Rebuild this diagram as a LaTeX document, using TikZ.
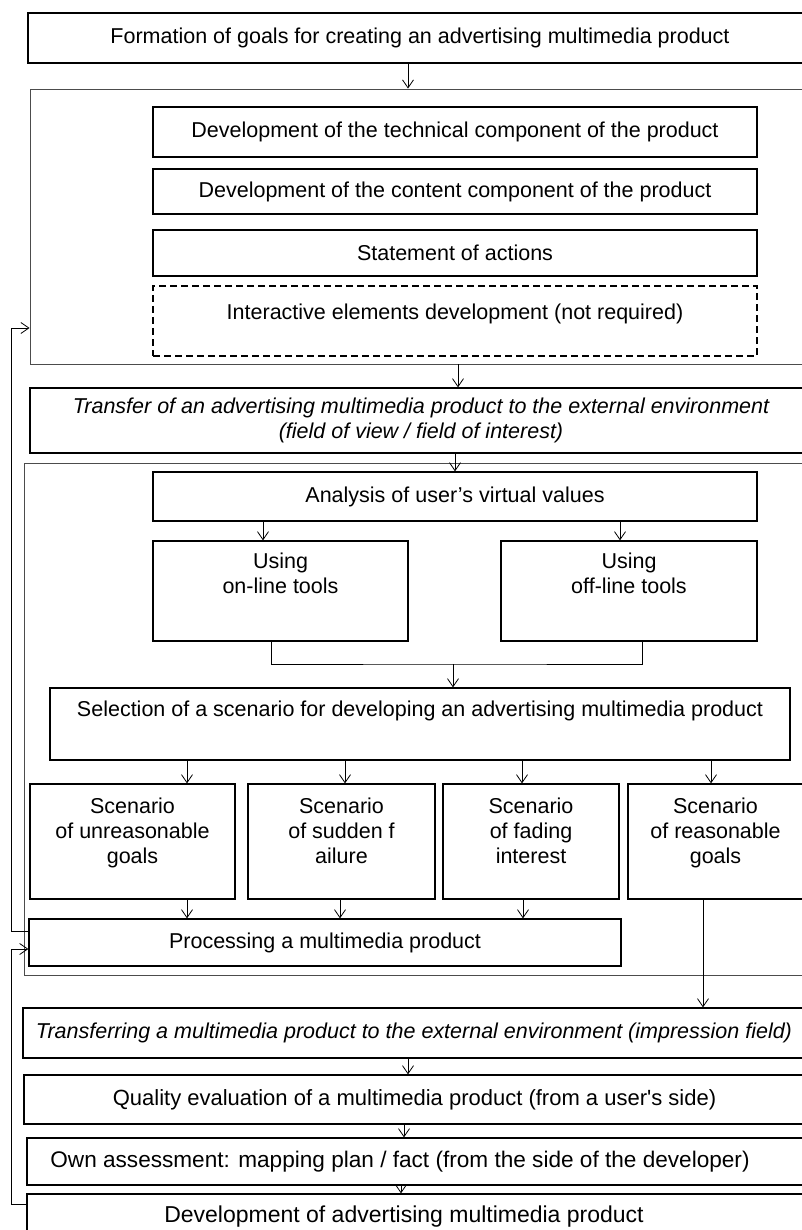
\documentclass[tikz,border=0pt]{standalone}
\usepackage{fontspec}
\setmainfont{Liberation Sans}
\usetikzlibrary{arrows.meta}
\begin{document}
\begin{tikzpicture}[x=1pt, y=-1pt,
    font=\fontsize{21.5}{25}\selectfont,
    box/.style={draw, line width=1.3pt, inner sep=0pt, align=center},
    tbox/.style={draw, line width=1.3pt, inner sep=0pt},
    frame/.style={draw=black!70, line width=0.9pt, inner sep=0pt},
    ital/.style={font=\fontsize{21.5}{25}\selectfont\itshape},
    size/.style={font=\fontsize{#1}{25}\selectfont},
    link/.style={line width=0.8pt},
    arr/.style={line width=0.8pt, -{Straight Barb[length=8pt, width=11pt]}}]
    \useasboundingbox (0,0) rectangle (802,1230);
    \clip (0,0) rectangle (802,1230);

    \node (goal) at (420,38) [box, minimum width=784pt, minimum height=50pt] {Formation of goals for creating an advertising multimedia product};

    \node (stage1) at (430,226.5) [frame, minimum width=800pt, minimum height=275pt] {};
    \node (tech) at (455,132) [box, minimum width=604pt, minimum height=50pt] {Development of the technical component of the product};
    \node (cont) at (455,191.5) [box, minimum width=604pt, minimum height=45pt] {Development of the content component of the product};
    \node (act) at (455,253) [box, minimum width=604pt, minimum height=46pt] {Statement of actions};
    \node (inter) at (455,321) [tbox, dash pattern=on 7pt off 4pt] {\parbox[c][70pt][t]{604pt}{\centering\rule{0pt}{33pt}Interactive elements development (not required)}};

    \node (move) at (421,420.5) [box, ital, minimum width=782pt, minimum height=65pt] {Transfer of an advertising multimedia product to the external environment\\(field of view / field of interest)};

    \node (stage2) at (427,719) [frame, minimum width=806pt, minimum height=512pt] {};
    \node (vals) at (455,496.5) [box, minimum width=604pt, minimum height=49pt] {Analysis of user’s virtual values};
    \node (online) at (280.5,591) [tbox] {\parbox[c][100pt][t]{255pt}{\centering\rule{0pt}{27pt}Using\\on-line tools}};
    \node (offline) at (629,591) [tbox] {\parbox[c][100pt][t]{256pt}{\centering\rule{0pt}{27pt}Using\\off-line tools}};
    \node (choice) at (420,724) [tbox] {\parbox[c][72pt][t]{740pt}{\centering\rule{0pt}{28pt}Selection of a scenario for developing an advertising multimedia product}};
    \node (unreas) at (132.5,841.5) [tbox] {\parbox[c][115pt][t]{205pt}{\centering\rule{0pt}{29pt}Scenario\\of unreasonable\\goals}};
    \node (sudden) at (341.5,841.5) [tbox] {\parbox[c][115pt][t]{187pt}{\centering\rule{0pt}{29pt}Scenario\\of sudden f\\ailure}};
    \node (fading) at (531,841.5) [tbox] {\parbox[c][115pt][t]{176pt}{\centering\rule{0pt}{29pt}Scenario\\of fading\\interest}};
    \node (reas) at (715.5,841.5) [tbox] {\parbox[c][115pt][t]{175pt}{\centering\rule{0pt}{29pt}Scenario\\of reasonable\\goals}};
    \node (proc) at (325,942.5) [box, minimum width=592pt, minimum height=47pt] {Processing a multimedia product};

    \node (show) at (414,1033) [box, ital, minimum width=782pt, minimum height=50pt] {Transferring a multimedia product to the external environment (impression field)};
    \node (quality) at (414.5,1099.5) [box, size=22, minimum width=781pt, minimum height=49pt] {Quality evaluation of a multimedia product (from a user\textquotesingle s side)};
    \node (own) at (416,1161.5) [box, size=22.6, minimum width=778pt, minimum height=47pt] {\hspace*{-32pt}Own assessment: mapping plan / fact (from the side of the developer)};
    \node (dev) at (416,1217) [box, size=23, minimum width=778pt, minimum height=46pt] {\hspace*{-24pt}Development of advertising multimedia product};

    \draw[arr] (goal.south -| 408,0) -- (stage1.north -| 408,0);
    \draw[arr] (stage1.south -| 458,0) -- (move.north -| 458,0);
    \draw[arr] (move.south -| vals.north) -- (vals.north);
    \draw[arr] (vals.south -| 263,0) -- (online.north -| 263,0);
    \draw[arr] (vals.south -| 620,0) -- (offline.north -| 620,0);

    \coordinate (join) at (453,664);
    \draw[link] (online.south -| 271,0) |- (join) -| (offline.south -| 642,0);
    \draw[arr] (join) -- (join |- choice.north);

    \draw[arr] (choice.south -| 187,0) -- (unreas.north -| 187,0);
    \draw[arr] (choice.south -| 345,0) -- (sudden.north -| 345,0);
    \draw[arr] (choice.south -| 522,0) -- (fading.north -| 522,0);
    \draw[arr] (choice.south -| 711,0) -- (reas.north -| 711,0);

    \draw[arr] (unreas.south -| 187,0) -- (proc.north -| 187,0);
    \draw[arr] (sudden.south -| 340,0) -- (proc.north -| 340,0);
    \draw[arr] (fading.south -| 523,0) -- (proc.north -| 523,0);
    \draw[arr] (reas.south -| 703,0) -- (show.north -| 703,0);

    \draw[arr] (show.south -| 408,0) -- (quality.north -| 408,0);
    \draw[arr] (quality.south -| 404,0) -- (own.north -| 404,0);
    \draw[arr] (own.south -| 401,0) -- (dev.north -| 401,0);

    \coordinate (back1) at (11,328);
    \coordinate (back2) at (11,949);
    \draw[arr] (proc.west |- 0,931) -| (back1) -- (back1 -| stage1.west);
    \draw[arr] (dev.west |- 0,1204) -| (back2) -- (back2 -| proc.west);
\end{tikzpicture}
\end{document}
